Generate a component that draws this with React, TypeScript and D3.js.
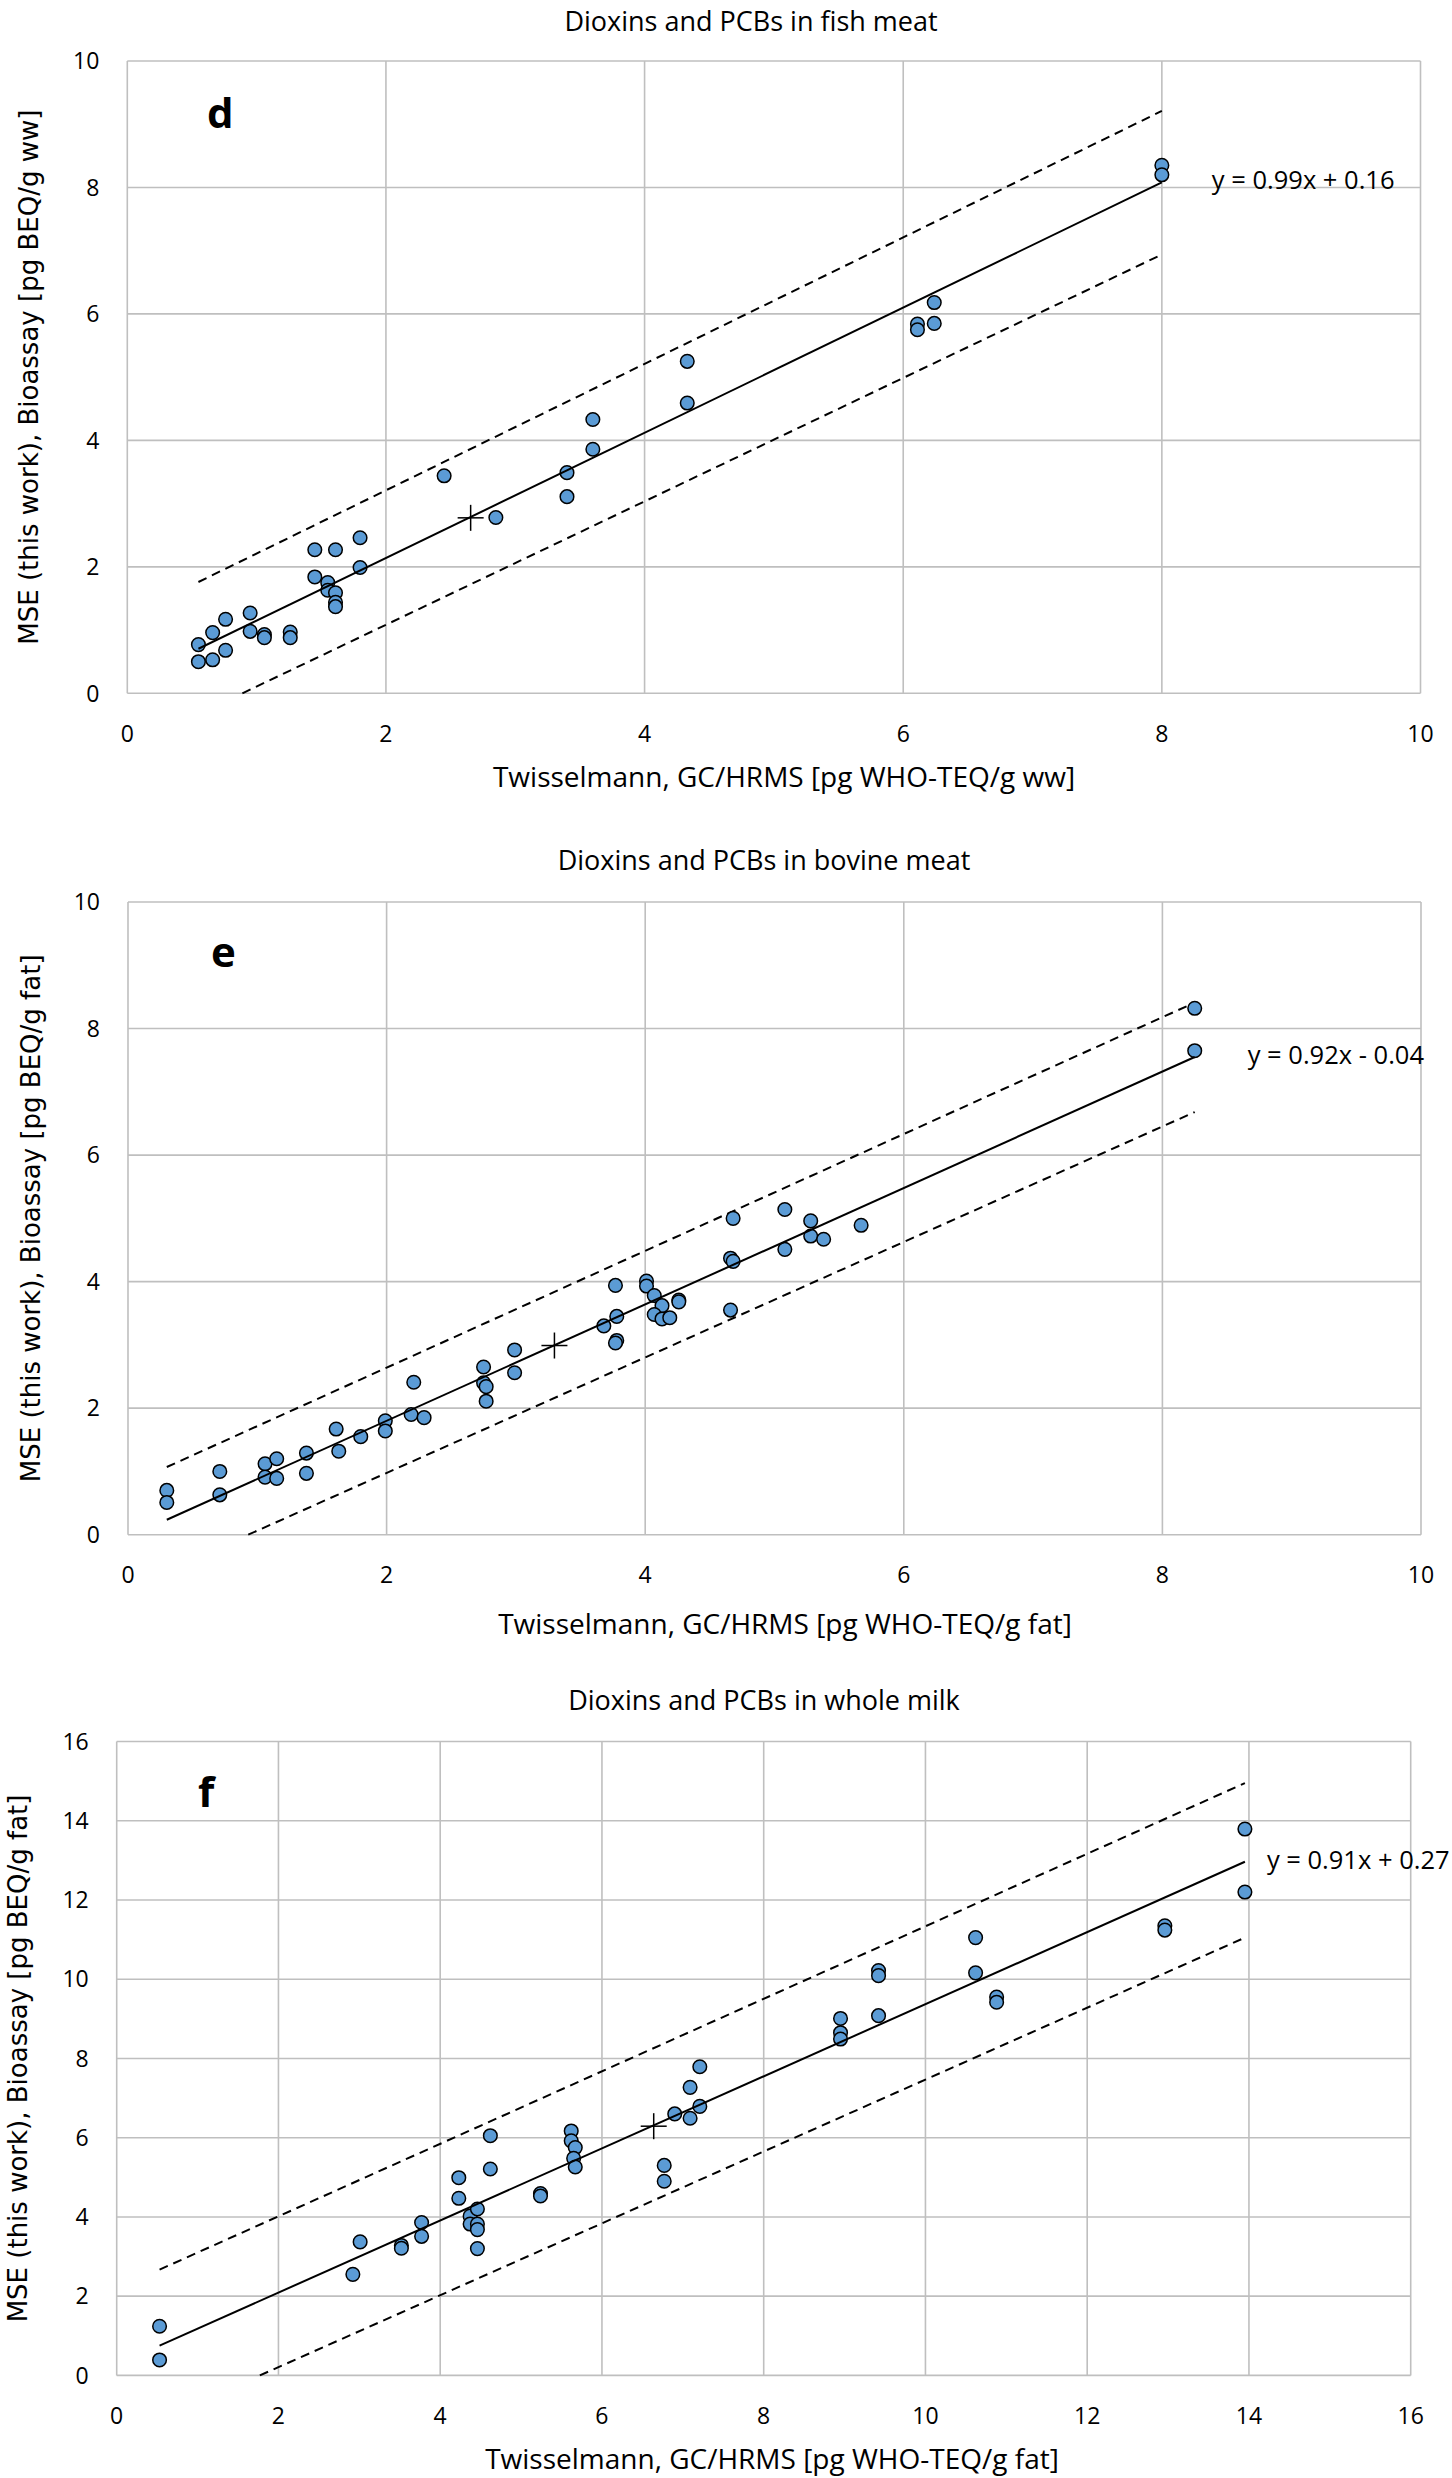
import React from "react";
import * as d3 from "d3";

// ---------- DATA ----------
const fishPoints: [number, number][] = [
  [0.55, 0.77], [0.55, 0.5], [0.66, 0.96], [0.66, 0.53], [0.76, 1.17], [0.76, 0.68],
  [0.95, 1.27], [0.95, 0.98], [1.06, 0.93], [1.06, 0.88], [1.26, 0.97], [1.26, 0.88],
  [1.45, 2.27], [1.45, 1.84], [1.55, 1.75], [1.55, 1.63], [1.61, 2.27], [1.61, 1.59],
  [1.61, 1.44], [1.61, 1.37], [1.8, 2.46], [1.8, 1.99], [2.45, 3.44], [2.85, 2.78],
  [3.4, 3.49], [3.4, 3.11], [3.6, 4.33], [3.6, 3.86], [4.33, 5.25], [4.33, 4.59],
  [6.11, 5.84], [6.11, 5.75], [6.24, 6.18], [6.24, 5.85], [8.0, 8.35], [8.0, 8.2],
];
const fishFit = [0.99, 0.16];
const fishCentroid = [2.655, 2.775];
const fishUpper: [number, number][] = [[0.55, 1.76], [8.0, 9.21]];
const fishLower: [number, number][] = [[0.89, 0], [8.0, 6.94]];

const bovinePoints: [number, number][] = [
  [0.3, 0.7], [0.3, 0.51], [0.71, 1.0], [0.71, 0.63], [1.06, 1.12], [1.06, 0.91],
  [1.15, 1.2], [1.15, 0.89], [1.38, 1.29], [1.38, 0.97], [1.61, 1.67], [1.63, 1.32],
  [1.8, 1.55], [1.99, 1.8], [1.99, 1.64], [2.19, 1.9], [2.21, 2.41], [2.29, 1.85],
  [2.75, 2.65], [2.75, 2.4], [2.77, 2.34], [2.77, 2.11], [2.99, 2.92], [2.99, 2.56],
  [3.68, 3.3], [3.77, 3.94], [3.78, 3.45], [3.78, 3.07], [3.77, 3.03], [4.01, 4.01],
  [4.01, 3.93], [4.07, 3.78], [4.13, 3.62], [4.07, 3.48], [4.13, 3.41], [4.19, 3.43],
  [4.26, 3.71], [4.26, 3.68], [4.68, 5.0], [4.66, 4.37], [4.68, 4.32], [4.66, 3.55],
  [5.08, 5.14], [5.08, 4.51], [5.28, 4.96], [5.28, 4.72], [5.38, 4.67], [5.67, 4.89],
  [8.25, 8.32], [8.25, 7.65],
];
const bovineFit = [0.92, -0.04];
const bovineCentroid = [3.298, 2.99];
const bovineUpper: [number, number][] = [[0.3, 1.07], [8.25, 8.41]];
const bovineLower: [number, number][] = [[0.93, 0], [8.25, 6.68]];

const milkPoints: [number, number][] = [
  [0.53, 1.24], [0.53, 0.39], [2.92, 2.55], [3.01, 3.37], [3.52, 3.28], [3.52, 3.21],
  [3.77, 3.86], [3.77, 3.51], [4.23, 4.99], [4.23, 4.47], [4.37, 4.02], [4.37, 3.82],
  [4.46, 4.2], [4.46, 3.82], [4.46, 3.68], [4.46, 3.2], [4.62, 6.05], [4.62, 5.21],
  [5.24, 4.59], [5.24, 4.53], [5.62, 6.17], [5.62, 5.92], [5.67, 5.75], [5.65, 5.48],
  [5.67, 5.26], [6.77, 5.3], [6.77, 4.9], [6.9, 6.6], [7.09, 7.27], [7.09, 6.49],
  [7.21, 7.79], [7.21, 6.79], [8.95, 9.01], [8.95, 8.65], [8.95, 8.49], [9.42, 10.22],
  [9.42, 10.09], [9.42, 9.08], [10.62, 11.05], [10.62, 10.16], [10.88, 9.55],
  [10.88, 9.42], [12.96, 11.35], [12.96, 11.24], [13.95, 13.79], [13.95, 12.2],
];
const milkFit = [0.91, 0.27];
const milkCentroid = [6.64, 6.29];
const milkUpper: [number, number][] = [[0.53, 2.67], [13.95, 14.95]];
const milkLower: [number, number][] = [[1.77, 0], [13.95, 11.05]];

const ticks10 = [0, 2, 4, 6, 8, 10];
const ticks16 = [0, 2, 4, 6, 8, 10, 12, 14, 16];

const titles = [
  "Dioxins and PCBs in fish meat",
  "Dioxins and PCBs in bovine meat",
  "Dioxins and PCBs in whole milk",
];
const xLabels = [
  "Twisselmann, GC/HRMS [pg WHO-TEQ/g ww]",
  "Twisselmann, GC/HRMS [pg WHO-TEQ/g fat]",
  "Twisselmann, GC/HRMS [pg WHO-TEQ/g fat]",
];
const yLabels = [
  "MSE (this work), Bioassay [pg BEQ/g ww]",
  "MSE (this work), Bioassay [pg BEQ/g fat]",
  "MSE (this work), Bioassay [pg BEQ/g fat]",
];
const letters = ["d", "e", "f"];
const equations = ["y = 0.99x + 0.16", "y = 0.92x - 0.04", "y = 0.91x + 0.27"];

// ---------- LAYOUT ----------
const FONT = "'Open Sans', sans-serif";
const YFONT = "'DejaVu Sans', sans-serif";
const GRID = "#BFBFBF";
const FILL = "#5B9BD5";

type PanelCfg = {
  left: number; right: number; top: number; bottom: number;
  max: number; ticks: number[];
  points: [number, number][]; fit: number[]; centroid: number[];
  upper: [number, number][]; lower: [number, number][];
  title: string; titleX: number; titleY: number;
  xLabel: string; xLabelY: number; xLabelX: number;
  yLabel: string; yLabelX: number;
  letter: string; letterX: number; letterY: number;
  eq: string; eqDx: number; eqDy: number;
};

const panels: PanelCfg[] = [
  {
    left: 127.3, right: 1420.5, top: 61, bottom: 693.3, max: 10, ticks: ticks10,
    points: fishPoints, fit: fishFit, centroid: fishCentroid, upper: fishUpper, lower: fishLower,
    title: titles[0], titleX: 751, titleY: 31,
    xLabel: xLabels[0], xLabelX: 784, xLabelY: 787,
    yLabel: yLabels[0], yLabelX: 29,
    letter: letters[0], letterX: 207, letterY: 128,
    eq: equations[0], eqDx: 50, eqDy: 7,
  },
  {
    left: 128, right: 1421, top: 902, bottom: 1534.7, max: 10, ticks: ticks10,
    points: bovinePoints, fit: bovineFit, centroid: bovineCentroid, upper: bovineUpper, lower: bovineLower,
    title: titles[1], titleX: 764, titleY: 870,
    xLabel: xLabels[1], xLabelX: 785, xLabelY: 1634,
    yLabel: yLabels[1], yLabelX: 31,
    letter: letters[1], letterX: 211, letterY: 967,
    eq: equations[1], eqDx: 53, eqDy: 7,
  },
  {
    left: 116.7, right: 1410.7, top: 1741.5, bottom: 2375.4, max: 16, ticks: ticks16,
    points: milkPoints, fit: milkFit, centroid: milkCentroid, upper: milkUpper, lower: milkLower,
    title: titles[2], titleX: 764, titleY: 1710,
    xLabel: xLabels[2], xLabelX: 772, xLabelY: 2469,
    yLabel: yLabels[2], yLabelX: 18,
    letter: letters[2], letterX: 198, letterY: 1807,
    eq: equations[2], eqDx: 22, eqDy: 7,
  },
];

function Panel({ p }: { p: PanelCfg }) {
  const x = d3.scaleLinear().domain([0, p.max]).range([p.left, p.right]);
  const y = d3.scaleLinear().domain([0, p.max]).range([p.bottom, p.top]);
  const line = d3.line<[number, number]>().x((d) => x(d[0])).y((d) => y(d[1]));
  const xs = p.points.map((d) => d[0]);
  const x0 = d3.min(xs) as number;
  const x1 = d3.max(xs) as number;
  const fitLine: [number, number][] = [
    [x0, p.fit[0] * x0 + p.fit[1]],
    [x1, p.fit[0] * x1 + p.fit[1]],
  ];
  const cx = x(p.centroid[0]);
  const cy = y(p.centroid[1]);
  const yMid = (p.top + p.bottom) / 2;
  return (
    <g>
      <text x={p.titleX} y={p.titleY} textAnchor="middle" fontFamily={FONT} fontSize={27} fill="#000">
        {p.title}
      </text>
      {p.ticks.map((t) => (
        <line key={"gx" + t} x1={x(t)} x2={x(t)} y1={p.top} y2={p.bottom} stroke={GRID} strokeWidth={1.6} />
      ))}
      {p.ticks.map((t) => (
        <line key={"gy" + t} x1={p.left} x2={p.right} y1={y(t)} y2={y(t)} stroke={GRID} strokeWidth={1.6} />
      ))}
      {p.ticks.map((t) => (
        <text key={"ty" + t} x={p.left - 28} y={y(t)} dy="0.36em" textAnchor="end" fontFamily={FONT} fontSize={23} fill="#000">
          {t}
        </text>
      ))}
      {p.ticks.map((t) => (
        <text key={"tx" + t} x={x(t)} y={p.bottom + 40} dy="0.36em" textAnchor="middle" fontFamily={FONT} fontSize={23} fill="#000">
          {t}
        </text>
      ))}
      <text x={p.xLabelX} y={p.xLabelY} textAnchor="middle" fontFamily={FONT} fontSize={28} fill="#000">
        {p.xLabel}
      </text>
      <text
        transform={`translate(${p.yLabelX},${yMid}) rotate(-90)`}
        dy="0.36em"
        textAnchor="middle"
        fontFamily={YFONT}
        fontSize={26}
        fill="#000"
      >
        {p.yLabel}
      </text>
      <text x={p.letterX} y={p.letterY} fontFamily={FONT} fontWeight="bold" fontSize={42} fill="#000">
        {p.letter}
      </text>
      <path d={line(p.upper) || ""} stroke="#000" strokeWidth={2} strokeDasharray="9,6" fill="none" />
      <path d={line(p.lower) || ""} stroke="#000" strokeWidth={2} strokeDasharray="9,6" fill="none" />
      {p.points.map((d, i) => (
        <circle key={i} cx={x(d[0])} cy={y(d[1])} r={6.8} fill={FILL} stroke="#000" strokeWidth={1.5} />
      ))}
      <path d={line(fitLine) || ""} stroke="#000" strokeWidth={2} fill="none" />
      <line x1={cx - 13} x2={cx + 13} y1={cy} y2={cy} stroke="#000" strokeWidth={1.5} />
      <line x1={cx} x2={cx} y1={cy - 13} y2={cy + 13} stroke="#000" strokeWidth={1.5} />
      <text x={x(x1) + p.eqDx} y={y(fitLine[1][1]) + p.eqDy} fontFamily={FONT} fontSize={25.5} fill="#000">
        {p.eq}
      </text>
    </g>
  );
}

export default function App() {
  return (
    <svg
      width={1452}
      height={2478}
      style={{ position: "absolute", left: 0, top: 0, background: "#fff" }}
      xmlns="http://www.w3.org/2000/svg"
    >
      <rect x={0} y={0} width={1452} height={2478} fill="#fff" />
      {panels.map((p, i) => (
        <Panel key={i} p={p} />
      ))}
    </svg>
  );
}
